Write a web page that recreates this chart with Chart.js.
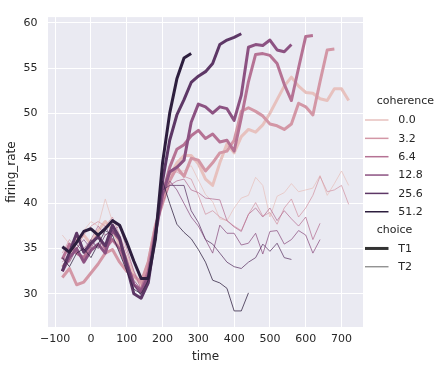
<!DOCTYPE html>
<html><head><meta charset="utf-8">
<script src="https://cdn.jsdelivr.net/npm/chart.js@4"></script>
<style>html,body{margin:0;padding:0;background:#fff;}canvas{display:block;}</style>
</head><body>
<canvas id="c" width="447" height="369"></canvas>
<script>
const times = [-80,-60,-40,-20,0,20,40,60,80,100,120,140,160,180,200,220,240,260,280,300,320,340,360,380,400,420,440,460,480,500,520,540,560,580,600,620,640,660,680,700,720];
const coherenceLevels = ["0.0","3.2","6.4","12.8","25.6","51.2"];
const choiceLevels = ["T1","T2"];
const xTicks = [-100,0,100,200,300,400,500,600,700];
const yTicks = [30,35,40,45,50,55,60];

const t1_c00 = [33.0,33.8,36.0,36.5,35.5,37.0,38.0,37.0,35.5,33.8,32.0,31.0,33.5,37.5,40.5,43.0,44.5,45.3,45.3,44.4,42.7,42.0,44.5,46.6,45.6,47.4,48.2,47.9,48.7,50.0,51.5,53.0,54.0,53.0,52.3,52.2,51.6,51.4,52.7,52.7,51.4];
const t1_c32 = [31.8,32.8,31.0,31.3,32.3,33.3,34.5,34.9,33.5,32.5,32.0,31.3,33.5,37.5,40.0,42.5,44.0,43.0,45.0,44.8,43.6,44.5,45.6,45.8,47.0,50.2,50.6,50.2,49.7,48.8,48.6,48.2,48.8,51.1,50.7,49.8,53.5,57.0,57.1,null,null];
const t1_c64 = [33.8,35.5,34.5,34.0,35.5,36.5,35.0,36.0,35.0,33.0,31.0,30.5,32.5,37.0,41.0,44.0,46.0,46.5,47.5,48.1,47.2,47.7,46.8,47.0,45.8,49.5,53.5,56.5,56.6,56.4,55.5,53.2,51.4,55.0,58.5,58.6,null,null,null,null,null];
const t1_c128 = [32.5,34.0,35.0,33.5,34.8,35.5,34.5,37.0,36.0,33.5,31.0,30.2,32.0,36.5,41.0,43.5,44.0,44.8,49.0,51.0,50.7,50.0,50.7,50.5,49.2,52.0,57.3,57.6,57.5,58.1,57.0,56.8,57.6,null,null,null,null,null,null,null,null];
const t1_c256 = [32.5,34.6,36.7,34.6,35.6,36.3,35.3,37.6,36.2,33.0,30.0,29.5,31.2,36.5,42.5,47.0,49.8,51.5,53.4,54.1,54.6,55.5,57.6,58.1,58.4,58.8,null,null,null,null,null,null,null,null,null,null,null,null,null,null,null];
const t1_c512 = [35.2,34.6,35.7,36.9,37.2,36.5,37.2,38.1,37.6,35.7,33.6,31.7,31.7,36.0,44.5,50.0,53.8,56.1,56.6,null,null,null,null,null,null,null,null,null,null,null,null,null,null,null,null,null,null,null,null,null,null];

const t2_c00 = [36.5,35.5,36.0,37.0,38.0,37.5,40.5,38.0,36.0,34.0,32.0,31.5,33.0,37.5,40.5,43.5,43.6,43.6,44.2,42.6,41.0,40.2,38.3,38.1,39.5,40.6,40.9,42.9,42.0,38.5,40.8,41.2,42.2,41.3,41.5,41.7,43.1,40.9,42.2,43.6,42.0];
const t2_c32 = [34.5,36.0,35.0,36.5,37.5,38.0,37.5,38.5,36.5,34.5,32.5,31.0,33.0,37.0,40.5,43.2,43.5,43.0,42.7,40.9,38.8,39.2,38.5,38.1,37.5,37.0,38.8,40.1,38.6,39.0,37.7,39.5,40.5,38.5,39.5,40.9,43.0,41.3,41.5,42.0,39.9];
const t2_c64 = [33.5,34.5,36.0,35.0,36.0,37.5,36.5,37.0,37.5,35.0,32.5,30.5,32.0,37.5,40.0,42.0,42.5,42.7,41.5,41.2,40.6,40.5,40.4,38.1,37.4,36.9,38.8,39.5,38.5,39.5,38.1,39.2,38.3,37.5,38.5,36.0,37.8,null,null,null,null];
const t2_c128 = [34.0,33.5,35.0,36.0,35.0,36.5,37.5,36.0,35.0,33.5,31.5,30.5,31.5,37.0,41.0,42.5,41.5,40.0,38.5,37.5,36.0,34.5,37.6,36.7,36.7,35.4,35.6,36.7,34.4,36.9,37.0,35.5,36.0,37.0,36.5,34.5,36.0,null,null,null,null];
const t2_c256 = [33.0,34.5,35.5,34.5,36.0,35.0,36.5,37.0,36.0,33.5,31.0,29.8,31.0,36.5,41.5,42.0,42.0,42.0,39.2,37.9,36.0,35.5,34.5,33.5,33.0,32.8,33.5,34.0,35.5,34.7,35.6,34.0,33.8,null,null,null,null,null,null,null,null];
const t2_c512 = [34.0,33.0,34.5,35.0,34.0,35.5,37.0,36.5,34.5,32.5,30.5,30.0,31.5,37.0,42.5,40.0,37.7,36.8,36.1,34.9,33.5,31.5,31.2,30.6,28.1,28.1,30.1,null,null,null,null,null,null,null,null,null,null,null,null,null,null];

const seriesT1 = [t1_c00,t1_c32,t1_c64,t1_c128,t1_c256,t1_c512];
const seriesT2 = [t2_c00,t2_c32,t2_c64,t2_c128,t2_c256,t2_c512];
const colors = ['#e7c1be','#d397a6','#b57294','#8c5282','#5d3766','#2d1e3e'];
const widths = {T1:3, T2:0.75};
const FONT = '"DejaVu Sans", "Liberation Sans", sans-serif';
const TXT = '#262626';

const datasets = [];
coherenceLevels.forEach((lvl, i) => {
  [['T1', seriesT1[i]], ['T2', seriesT2[i]]].forEach(([ch, arr]) => {
    const pts = [];
    times.forEach((t, k) => { if (arr[k] !== null) pts.push({x: t, y: arr[k]}); });
    datasets.push({label: lvl + ' ' + ch, data: pts, borderColor: colors[i], borderWidth: widths[ch],
      pointRadius: 0, fill: false, tension: 0, borderJoinStyle: 'round', borderCapStyle: 'butt'});
  });
});
datasets.reverse(); // later (darker) groups drawn on top

const bgPlugin = {
  id: 'bg',
  beforeDraw(chart) {
    const {ctx, chartArea: a} = chart;
    ctx.save();
    ctx.fillStyle = '#ffffff';
    ctx.fillRect(0, 0, chart.width, chart.height);
    ctx.fillStyle = '#eaeaf2';
    ctx.fillRect(a.left, a.top, a.right - a.left, a.bottom - a.top);
    ctx.restore();
  }
};

const legendPlugin = {
  id: 'seabornLegend',
  afterDraw(chart) {
    const ctx = chart.ctx;
    ctx.save();
    ctx.font = '11px ' + FONT;
    ctx.fillStyle = TXT;
    ctx.textBaseline = 'middle';
    ctx.textAlign = 'left';
    const step = 18.35;
    ctx.fillText('coherence', 376.7, 101);
    coherenceLevels.forEach((lvl, i) => {
      const y = 120 + i * step;
      ctx.strokeStyle = colors[i];
      ctx.lineWidth = 1.5;
      ctx.beginPath(); ctx.moveTo(365, y); ctx.lineTo(388.5, y); ctx.stroke();
      ctx.fillText(lvl, 398.3, y + 0.5);
    });
    ctx.fillText('choice', 376.7, 120 + 6 * step);
    choiceLevels.forEach((ch, j) => {
      const y = 120 + (7 + j) * step;
      ctx.strokeStyle = '#333333';
      ctx.lineWidth = widths[ch];
      ctx.beginPath(); ctx.moveTo(365, y); ctx.lineTo(388.5, y); ctx.stroke();
      ctx.fillText(ch, 398.3, y + 0.5);
    });
    ctx.restore();
  }
};

new Chart(document.getElementById('c').getContext('2d'), {
  type: 'line',
  data: {datasets},
  options: {
    responsive: false, animation: false, devicePixelRatio: 1,
    layout: {padding: {left: 0, top: 5.5, right: 84, bottom: 0}},
    plugins: {legend: {display: false}, tooltip: {enabled: false}},
    scales: {
      x: {
        type: 'linear', min: -120, max: 760,
        border: {display: false},
        grid: {color: '#ffffff', lineWidth: 1, drawTicks: false},
        ticks: {font: {family: FONT, size: 11}, color: TXT, padding: 6, maxRotation: 0,
          callback: v => (v < 0 ? '\u2212' + Math.abs(v) : String(v))},
        afterBuildTicks: s => { s.ticks = xTicks.map(v => ({value: v})); },
        afterFit: s => { s.height = 42; },
        title: {display: true, text: 'time', font: {family: FONT, size: 12}, color: TXT, padding: {top: 0, bottom: 5}}
      },
      y: {
        type: 'linear', min: 26.32, max: 60.64,
        border: {display: false},
        grid: {color: '#ffffff', lineWidth: 1, drawTicks: false},
        ticks: {font: {family: FONT, size: 11}, color: TXT, padding: 10.5,
          callback: v => String(v)},
        afterBuildTicks: s => { s.ticks = yTicks.map(v => ({value: v})); },
        afterFit: s => { s.width = 48; },
        title: {display: true, text: 'firing_rate', font: {family: FONT, size: 12}, color: TXT, padding: {top: 5, bottom: 5}}
      }
    }
  },
  plugins: [bgPlugin, legendPlugin]
});
</script>
</body></html>
